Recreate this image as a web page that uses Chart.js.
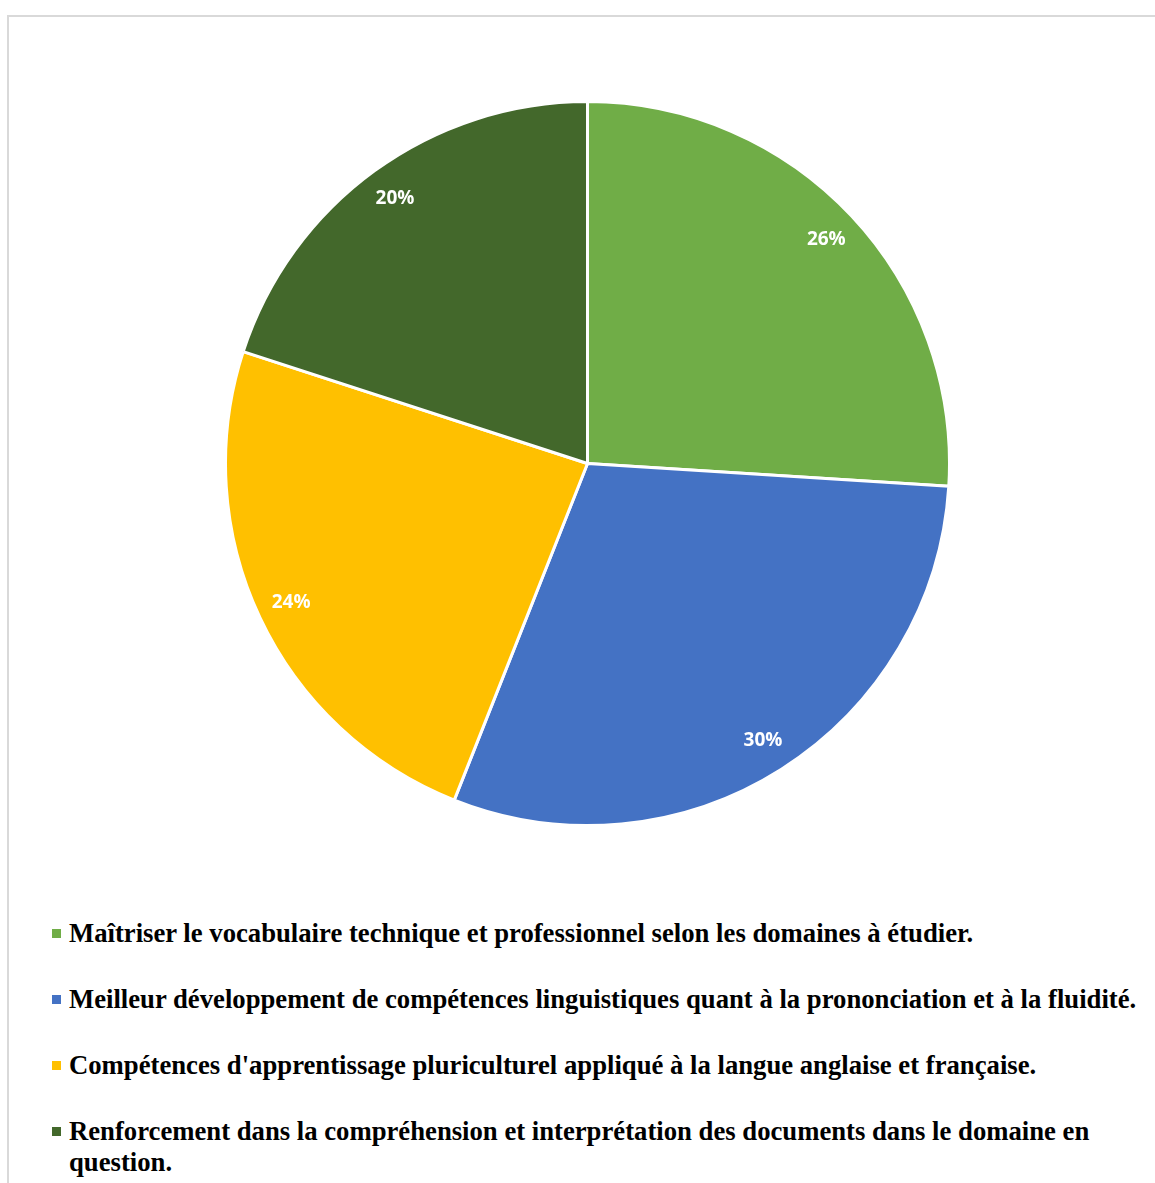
<!DOCTYPE html>
<html>
<head>
<meta charset="utf-8">
<script src="https://cdn.jsdelivr.net/npm/chart.js@4.4.1/dist/chart.umd.min.js"></script>
<style>
  body { margin: 0; background: #fff; width: 1155px; height: 1183px; overflow: hidden; position: relative; }
  #frame { position: absolute; left: 7px; top: 15px; width: 1200px; height: 1200px; border-left: 2px solid #d9d9d9; border-top: 2px solid #d9d9d9; }
  #pieWrap { position: absolute; left: 224px; top: 100px; width: 727px; height: 727px; }
  #legend { position: absolute; left: 52px; top: 918px; width: 1095px; font-family: "Liberation Serif", "Times New Roman", serif; font-weight: bold; font-size: 26.7px; color: #000; }
  .item { position: relative; padding-left: 17px; line-height: 31px; margin-bottom: 35px; }
  .item .box { position: absolute; left: 0; top: 11px; width: 9px; height: 9px; }
</style>
</head>
<body>
<div id="frame"></div>
<div id="pieWrap"><canvas id="pie"></canvas></div>
<div id="legend"></div>
<script>
// categories and values
const labels = [
  "Maîtriser le vocabulaire technique et professionnel selon les domaines à étudier.",
  "Meilleur développement de compétences linguistiques quant à la prononciation et à la fluidité.",
  "Compétences d'apprentissage pluriculturel appliqué à la langue anglaise et française.",
  "Renforcement dans la compréhension et interprétation des documents dans le domaine en question."
];
const values = [26, 30, 24, 20];
const colors = ["#70ad47", "#4472c4", "#ffc000", "#43682b"];

// draws the percent labels inside each slice, near the edge
const pctLabels = {
  id: "pctLabels",
  afterDatasetsDraw(chart) {
    const ctx = chart.ctx;
    const meta = chart.getDatasetMeta(0);
    const total = values.reduce((a, b) => a + b, 0);
    ctx.save();
    ctx.fillStyle = "#fff";
    ctx.font = "bold 19px 'Open Sans', Lato, sans-serif";
    ctx.textAlign = "center";
    ctx.textBaseline = "middle";
    meta.data.forEach((arc, i) => {
      const mid = (arc.startAngle + arc.endAngle) / 2;
      const r = arc.outerRadius * 0.905;
      const x = arc.x + Math.cos(mid) * r;
      const y = arc.y + Math.sin(mid) * r;
      ctx.fillText(Math.round(values[i] / total * 100) + "%", x, y);
    });
    ctx.restore();
  }
};

new Chart(document.getElementById("pie"), {
  type: "pie",
  data: {
    labels,
    datasets: [{
      data: values,
      backgroundColor: colors,
      borderColor: "#fff",
      borderWidth: 3,
      hoverOffset: 0
    }]
  },
  options: {
    responsive: true,
    maintainAspectRatio: false,
    animation: false,
    layout: { padding: 0 },
    plugins: {
      legend: { display: false },
      tooltip: { enabled: false }
    }
  },
  plugins: [pctLabels]
});

document.getElementById("legend").innerHTML = labels.map((l, i) => `
  <div class="item"><span class="box" style="background:${colors[i]}"></span>${l}</div>
`).join("");
</script>
</body>
</html>
